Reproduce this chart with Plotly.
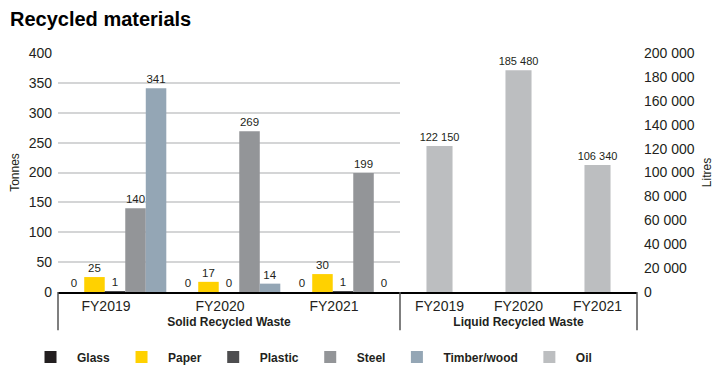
import plotly.graph_objects as go

# ---- data ----
years = ["FY2019", "FY2020", "FY2021"]
solid_series = ["Glass", "Paper", "Plastic", "Steel", "Timber/wood"]
glass = [0, 0, 0]
paper = [25, 17, 30]
plastic = [1, 0, 1]
steel = [140, 269, 199]
timber = [341, 14, 0]
oil = [122150, 185480, 106340]

solid_values = [glass, paper, plastic, steel, timber]
colors = {"Glass": "#231f20", "Paper": "#ffd100", "Plastic": "#4d4d4f",
          "Steel": "#939598", "Timber/wood": "#94a6b5", "Oil": "#bcbec0"}

FONT = "Liberation Sans, Arial, sans-serif"
TXT = "#231f20"

fig = go.Figure()
for name, vals in zip(solid_series, solid_values):
    fig.add_trace(go.Bar(
        name=name, x=years, y=vals, xaxis="x", yaxis="y",
        marker=dict(color=colors[name], line=dict(width=0)),
        text=[str(v) for v in vals], textposition="outside", constraintext="none",
        textfont=dict(family=FONT, size=11.5, color=TXT),
        cliponaxis=False,
    ))

fig.add_trace(go.Bar(
    name="Oil", x=years, y=oil, xaxis="x2", yaxis="y2", width=0.33,
    marker=dict(color=colors["Oil"], line=dict(width=0)),
    text=[f"{v:,}".replace(",", " ") for v in oil], textposition="outside",
    constraintext="none",
    textfont=dict(family=FONT, size=11, color=TXT),
    cliponaxis=False,
))

# the page body adds an 8px offset, so the figure is 8px smaller than the window
W, H = 713, 376
L, R, T, B = 50, 84, 45, 92
plot_w = W - L - R
split = (392 - 50) / plot_w
grid = dict(showgrid=True, gridcolor="#d4d5d6", gridwidth=1.5, zeroline=False)

fig.update_layout(
    width=W, height=H,
    margin=dict(l=L, r=R, t=T, b=B, autoexpand=False),
    paper_bgcolor="white", plot_bgcolor="white",
    barmode="group", bargap=0.1, bargroupgap=0,
    separators=". ",
    font=dict(family=FONT, color=TXT, size=14),
    title=dict(text="Recycled materials", x=2 / W, xref="container", xanchor="left",
               y=1 - 11 / H, yref="container", yanchor="middle", pad=dict(l=0, t=0),
               font=dict(family=FONT, size=20, color="#000000", weight=700)),
    xaxis=dict(domain=[0, split], anchor="y", type="category",
               showline=True, linecolor="#000000", linewidth=1.5,
               showgrid=False, ticks="", ticklabelshift=-9,
               tickfont=dict(size=14, color=TXT),
               title=dict(text="Solid Recycled Waste", standoff=5,
                          font=dict(size=12, color=TXT, weight=700))),
    xaxis2=dict(domain=[split, 1], anchor="y2", type="category",
                showline=True, linecolor="#000000", linewidth=1.5,
                showgrid=False, ticks="",
                tickfont=dict(size=14, color=TXT),
                title=dict(text="Liquid Recycled Waste", standoff=5,
                           font=dict(size=12, color=TXT, weight=700))),
    yaxis=dict(range=[0, 400], dtick=50, anchor="x", side="left",
               ticks="", ticklabelstandoff=5,
               tickfont=dict(size=14, color=TXT),
               title=dict(text="Tonnes", standoff=8, font=dict(size=12, color=TXT)),
               **grid),
    yaxis2=dict(range=[0, 200000], dtick=20000, anchor="x2", side="right",
                tickformat=",d", ticks="", ticklabelstandoff=6,
                showgrid=False, zeroline=False,
                tickfont=dict(size=14, color=TXT),
                title=dict(text="Litres", standoff=8, font=dict(size=12, color=TXT))),
    yaxis3=dict(range=[0, 400], dtick=50, anchor="x2", overlaying="y2",
                showticklabels=False, ticks="", **grid),
    legend=dict(orientation="h", x=-0.0587, xanchor="left", y=-0.272, yanchor="middle",
                itemwidth=43, font=dict(size=12, color=TXT, weight=700),
                traceorder="normal", itemclick=False, itemdoubleclick=False),
    showlegend=True,
)

# group separator lines below the category axis
for xr, xv in [("x domain", 0), ("x domain", 1), ("x2 domain", 1)]:
    fig.add_shape(type="line", xref=xr, x0=xv, x1=xv, yref="paper", y0=0, y1=-0.16,
                  line=dict(color="#555555", width=1.5))

fig.write_html("out.html")
